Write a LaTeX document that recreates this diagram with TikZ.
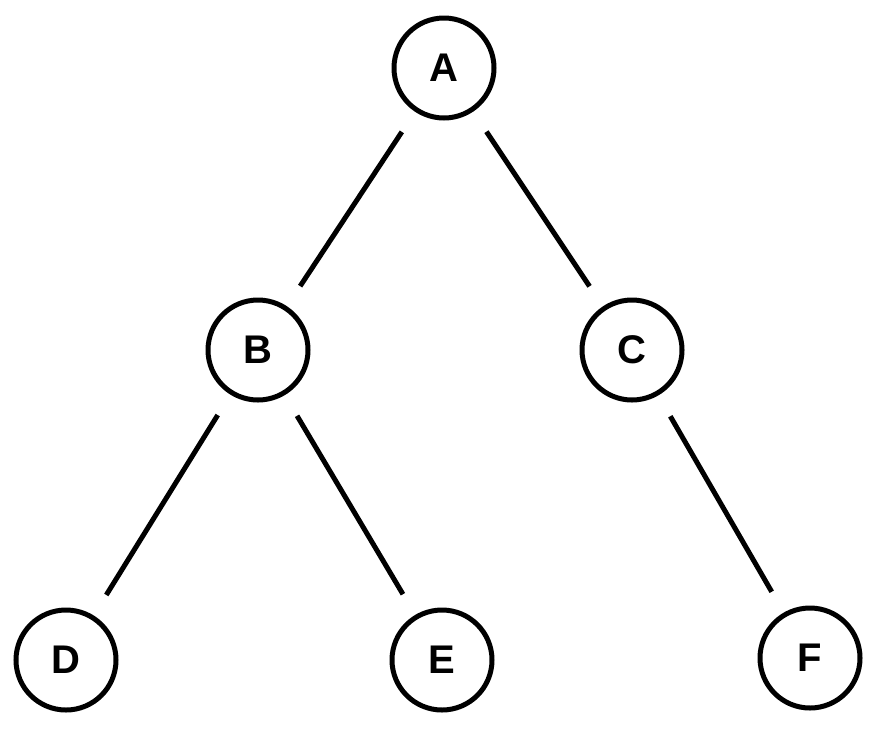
\documentclass[tikz,border=0pt]{standalone}
\usepackage{fontspec}
\setmainfont{Liberation Sans}
\begin{document}
\begin{tikzpicture}[x=1pt,y=-1pt,
  vtx/.style={circle,draw,line width=5pt,minimum size=100pt,inner sep=0pt,font=\fontsize{40}{40}\selectfont\bfseries},
  edge/.style={line width=5pt,shorten <=24pt,shorten >=24pt}]
\useasboundingbox (0,0) rectangle (880,732);
\node[vtx] (A) at (444,68) {A};
\node[vtx] (B) at (258,350) {B};
\node[vtx] (C) at (632,350) {C};
\node[vtx] (D) at (66,660) {D};
\node[vtx] (E) at (442,660) {E};
\node[vtx] (F) at (810,658) {F};
\draw[edge] (A) -- (B);
\draw[edge] (A) -- (C);
\draw[edge] (B) -- (D);
\draw[edge] (B) -- (E);
\draw[edge] (C) -- (F);
\end{tikzpicture}
\end{document}
